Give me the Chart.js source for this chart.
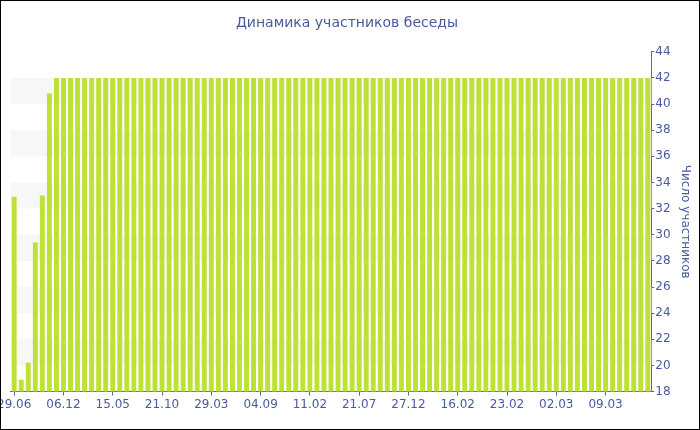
<!DOCTYPE html>
<html>
<head>
<meta charset="utf-8">
<script src="https://cdn.jsdelivr.net/npm/chart.js@4"></script>
<style>
  html, body { margin: 0; padding: 0; background: #fff; }
  #wrap { position: relative; width: 700px; height: 430px; overflow: hidden; }
  #frame { position: absolute; left: 0; top: 0; width: 698px; height: 428px; border: 1px solid #000; pointer-events: none; }
  /* shifted left so the first date label is cut by the frame, as in the original */
  #holder { position: absolute; left: -5px; top: 1px; width: 704px; height: 428px; }
</style>
</head>
<body>
<div id="wrap">
  <div id="holder"><canvas id="chart"></canvas></div>
  <div id="frame"></div>
</div>
<script>
  'use strict';

  const chartTitle = 'Динамика участников беседы';
  const axisTitle = 'Число участников';

  // one label every 7 bars
  const tickLabels = ['29.06', '06.12', '15.05', '21.10', '29.03', '04.09', '11.02',
                      '21.07', '27.12', '16.02', '23.02', '02.03', '09.03'];
  const TICK_STEP = 7;

  const members = [
    32.9, 18.9, 20.2, 29.4, 33, 40.8, 42, 42, 42, 42,
    42, 42, 42, 42, 42, 42, 42, 42, 42, 42,
    42, 42, 42, 42, 42, 42, 42, 42, 42, 42,
    42, 42, 42, 42, 42, 42, 42, 42, 42, 42,
    42, 42, 42, 42, 42, 42, 42, 42, 42, 42,
    42, 42, 42, 42, 42, 42, 42, 42, 42, 42,
    42, 42, 42, 42, 42, 42, 42, 42, 42, 42,
    42, 42, 42, 42, 42, 42, 42, 42, 42, 42,
    42, 42, 42, 42, 42, 42, 42, 42, 42, 42,
    42
  ];

  const yMin = 18, yMax = 44;

  const categories = members.map((_, i) => i % TICK_STEP === 0 ? tickLabels[i / TICK_STEP] : '');

  const textColor = '#4a5a9e';
  const axisColor = '#5567a6';
  const font = { family: 'DejaVu Sans', size: 12 };

  // alternating horizontal bands behind the bars
  const bandsPlugin = {
    id: 'bands',
    beforeDatasetsDraw(ci) {
      const { ctx, chartArea: a, scales: { y } } = ci;
      ctx.save();
      ctx.fillStyle = '#f7f7f7';
      for (let v = yMin; v < yMax; v += 2) {
        if (v % 4 !== 0) continue;
        const top = y.getPixelForValue(v + 2), bot = y.getPixelForValue(v);
        ctx.fillRect(a.left, top, a.right - a.left, bot - top);
      }
      ctx.restore();
    }
  };

  new Chart(document.getElementById('chart'), {
    type: 'bar',
    data: {
      labels: categories,
      datasets: [{
        data: members,
        backgroundColor: '#bde136',
        borderWidth: 0,
        categoryPercentage: 1,
        barPercentage: 0.7
      }]
    },
    options: {
      animation: false,
      responsive: true,
      maintainAspectRatio: false,
      layout: { padding: { left: 0, right: 0, top: 0, bottom: 15 } },
      plugins: {
        legend: { display: false },
        tooltip: { enabled: false },
        title: {
          display: true,
          text: chartTitle,
          color: textColor,
          font: { family: 'DejaVu Sans', size: 14, weight: 'normal' },
          padding: { top: 14, bottom: 20 }
        }
      },
      scales: {
        x: {
          offset: true,
          border: { display: true, color: axisColor, width: 1 },
          grid: {
            offset: false,
            drawOnChartArea: false,
            tickLength: 4,
            color: c => (c.index % TICK_STEP === 0 ? axisColor : 'rgba(0,0,0,0)')
          },
          ticks: {
            autoSkip: false,
            maxRotation: 0,
            padding: 2,
            color: textColor,
            font,
            callback: function (v, i) { return categories[i]; }
          }
        },
        y: {
          position: 'right',
          min: yMin,
          max: yMax,
          border: { display: true, color: axisColor, width: 1 },
          grid: { drawOnChartArea: false, tickLength: 3, color: axisColor },
          ticks: {
            stepSize: 1,
            padding: 1,
            color: textColor,
            font,
            callback: v => (v % 2 === 0 ? String(v) : '')
          },
          title: {
            display: true,
            text: axisTitle,
            color: textColor,
            font,
            padding: { top: 7, bottom: 6 }
          }
        }
      }
    },
    plugins: [bandsPlugin]
  });
</script>
</body>
</html>
